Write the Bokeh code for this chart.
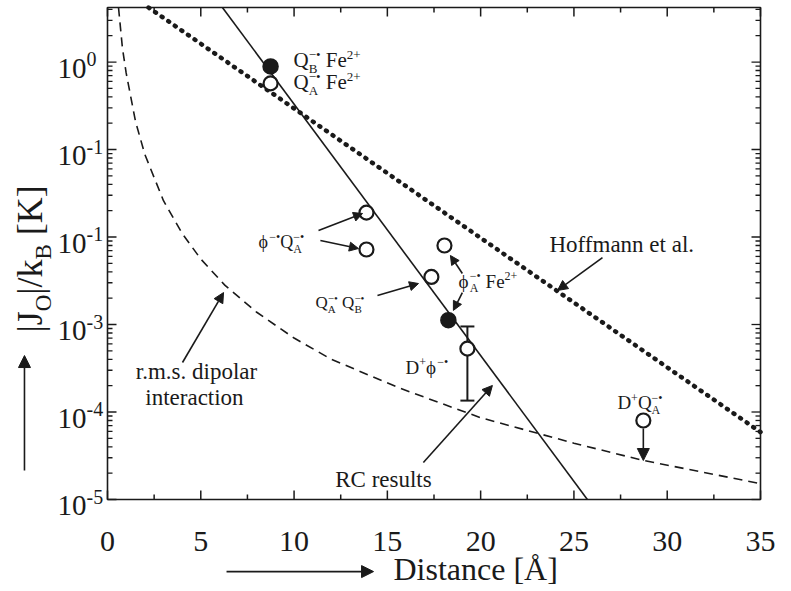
import math
from bokeh.plotting import figure
from bokeh.models import Range1d, Label, Arrow, NormalHead, Whisker, TeeHead, ColumnDataSource
from bokeh.embed import file_html
from bokeh.resources import INLINE

FONT = "Liberation Serif"
INK = "#1a1a1a"

# ---------------- data ----------------
open_x = [8.74, 13.88, 13.88, 17.36, 18.06, 19.29, 28.72]
open_y = [0.57, 0.019, 0.0072, 0.0035, 0.0080, 5.3e-4, 8.0e-5]
filled_x = [8.74, 18.27]
filled_y = [0.89, 1.12e-3]
err_x = [19.29]
err_lo = [1.35e-4]
err_hi = [9.5e-4]
rc_line_x = [6.16, 25.72]
rc_line_y = [4.2, 1.0e-5]
hoff_x = [2.2, 35.0]
hoff_y = [4.2, 5.9e-5]
dip_x = [0.59, 0.8, 1.0, 1.5, 2.0, 3.0, 4.0, 5.0, 6.3, 8.0, 10.0, 12.0, 15.7, 20.0, 25.0, 28.7, 35.0]
dip_y = [4.2, 1.45, 0.75, 0.21, 0.088, 0.026, 0.011, 5.6e-3, 2.8e-3, 1.38e-3, 7.0e-4,
         4.0e-4, 1.86e-4, 8.6e-5, 4.4e-5, 2.8e-5, 1.52e-5]

x_lim = [0.0, 35.0]
y_lim = [1e-5, 4.2]
x_ticks = [0, 5, 10, 15, 20, 25, 30, 35]
x_minor = [2.5, 7.5, 12.5, 17.5, 22.5, 27.5, 32.5]
y_ticks = [1e0, 1e-1, 1e-2, 1e-3, 1e-4, 1e-5]
y_tick_exp = ["0", "-1", "-1", "-3", "-4", "-5"]   # as printed in the reference
y_minor = [k * 10.0 ** n for n in range(-5, 1) for k in range(2, 10) if k * 10.0 ** n < 4.2]

# ---------------- layout: the plot box inside a full-canvas frame ----------------
W, H = 790, 590
BOX_L, BOX_R, BOX_T, BOX_B = 107, 760, 7, 499
sx = (BOX_R - BOX_L) / (x_lim[1] - x_lim[0])
ly0, ly1 = math.log10(y_lim[0]), math.log10(y_lim[1])
sy = (BOX_B - BOX_T) / (ly1 - ly0)
xr = Range1d(x_lim[0] - BOX_L / sx, x_lim[1] + (W - BOX_R) / sx)
yr = Range1d(10 ** (ly0 - (H - BOX_B) / sy), 10 ** (ly1 + BOX_T / sy))

p = figure(width=W, height=H, x_range=xr, y_range=yr, y_axis_type="log",
           x_axis_location=None, y_axis_location=None,
           output_backend="svg", toolbar_location=None,
           min_border_left=0, min_border_right=0, min_border_top=0, min_border_bottom=0)
p.background_fill_color = "white"
p.border_fill_color = "white"
p.outline_line_color = None
p.xgrid.visible = False
p.ygrid.visible = False

# box
p.quad(left=[x_lim[0]], right=[x_lim[1]], bottom=[y_lim[0]], top=[y_lim[1]],
       fill_color=None, line_color=INK, line_width=1.6)

# ticks (inward)
MAJ, MIN = 9, 5
for xs, length in ((x_ticks, MAJ), (x_minor, MIN)):
    p.ray(x=xs, y=[y_lim[0]] * len(xs), length=length, length_units="screen",
          angle=math.pi / 2, line_color=INK, line_width=1.5)
    p.ray(x=xs, y=[y_lim[1]] * len(xs), length=length, length_units="screen",
          angle=-math.pi / 2, line_color=INK, line_width=1.5)
for ys, length in ((y_ticks, MAJ), (y_minor, MIN)):
    p.ray(x=[x_lim[0]] * len(ys), y=ys, length=length, length_units="screen",
          angle=0, line_color=INK, line_width=1.3)
    p.ray(x=[x_lim[1]] * len(ys), y=ys, length=length, length_units="screen",
          angle=math.pi, line_color=INK, line_width=1.3)

# ---------------- curves ----------------
p.line(dip_x, dip_y, line_color=INK, line_width=1.6, line_dash="9 6")
p.line(hoff_x, hoff_y, line_color=INK, line_width=4.5, line_dash="1 7", line_cap="round")
p.line(rc_line_x, rc_line_y, line_color=INK, line_width=1.6)

src = ColumnDataSource(dict(x=err_x, lo=err_lo, hi=err_hi))
p.add_layout(Whisker(source=src, base="x", lower="lo", upper="hi", dimension="height",
                     line_color=INK, line_width=2,
                     upper_head=TeeHead(size=14, line_color=INK, line_width=2),
                     lower_head=TeeHead(size=14, line_color=INK, line_width=2)))

p.scatter(open_x, open_y, size=14, fill_color="white", line_color=INK, line_width=2.2)
p.scatter(filled_x, filled_y, size=15, fill_color=INK, line_color=INK, line_width=1.5)

# ---------------- arrows ----------------
arrows = [
    ((11.31, 0.01189), (13.67, 0.01858), 9),
    ((11.41, 9.12e-3), (13.45, 7.39e-3), 9),
    ((14.47, 2.14e-3), (16.67, 2.94e-3), 9),
    ((19.02, 3.83e-3), (18.38, 6.15e-3), 9),
    ((19.02, 2.32e-3), (18.54, 1.45e-3), 9),
    ((26.53, 5.83e-3), (24.12, 2.45e-3), 10),
    ((4.02, 3.68e-4), (6.22, 2.32e-3), 10),
    ((16.93, 2.65e-5), (20.63, 2.01e-4), 10),
    ((28.72, 6.48e-5), (28.72, 2.79e-5), 12),
    ((-4.45, 2.14e-5), (-4.45, 4.42e-4), 12),
    ((6.38, 1.5e-6), (14.26, 1.5e-6), 12),
]
for (xs, ys), (xe, ye), hs in arrows:
    p.add_layout(Arrow(x_start=xs, y_start=ys, x_end=xe, y_end=ye, line_color=INK,
                       line_width=1.6,
                       end=NormalHead(size=hs, fill_color=INK, line_color=INK, line_width=1)))

# ---------------- text helpers ----------------
WID = {" ": .25, "+": .564, "-": .333, "\u2212": .564, "\u2022": .35, ".": .25, "/": .278,
       "|": .2, "[": .333, "]": .333, "\u03c6": .52, "\u03d5": .6, "\u00c5": .722,
       "A": .722, "B": .667, "C": .667, "D": .722, "F": .556, "H": .722, "J": .389,
       "K": .722, "O": .722, "Q": .722, "R": .667,
       "a": .444, "c": .444, "d": .5, "e": .444, "f": .333, "i": .278, "k": .5, "l": .278,
       "m": .778, "n": .5, "o": .5, "p": .5, "r": .333, "s": .389, "t": .278, "u": .5}
MID = 0.34   # distance (em) from the baseline up to the vertical middle of the text box


def tw(s, fs):
    return sum(WID.get(c, 0.5) for c in s) * fs


def lab(x, y, text, size, dx=0.0, dy=0.0, rotate=False, align="left"):
    """dx/dy place the baseline (pixels, y up); the label is anchored at its middle."""
    if rotate:
        ox, oy, ang = dx - MID * size, dy, math.pi / 2
    else:
        ox, oy, ang = dx, dy + MID * size, 0.0
    p.add_layout(Label(x=x, y=y, x_offset=ox, y_offset=oy, angle=ang, text=text,
                       text_font=FONT, text_font_size=f"{size}px", text_color=INK,
                       text_align=align, text_baseline="middle"))


def rich(x, y, segs, size, dx=0.0, dy=0.0, rotate=False, small=0.64):
    pos = 0.0
    prev_start = 0.0
    for text, kind in segs:
        fs = size if kind == "n" else round(size * small)
        if kind != "supb":
            lead = len(text) - len(text.lstrip(" "))
            pos += lead * 0.25 * fs
            text = text.lstrip(" ")
        start = prev_start if kind == "supb" else pos
        shift = {"n": 0.0, "sub": -0.24 * size}.get(kind, 0.40 * size)
        if rotate:
            lab(x, y, text, fs, dx=dx - shift, dy=dy + start, rotate=True)
        else:
            lab(x, y, text, fs, dx=dx + start, dy=dy + shift)
        w = tw(text, fs)
        if kind == "supb":
            pos = max(pos, start + w)
        else:
            prev_start = start
            pos = start + w


RAD = "\u2212\u2022"
PHI = "\u03d5"

rich(9.97, 0.865, [("Q", "n"), ("B", "sub"), (RAD, "supb"), (" Fe", "n"), ("2+", "sup")], 21)
rich(9.97, 0.485, [("Q", "n"), ("A", "sub"), (RAD, "supb"), (" Fe", "n"), ("2+", "sup")], 21)
rich(8.09, 7.4e-3, [(PHI, "n"), (RAD, "sup"), ("Q", "n"), ("A", "sub"), (RAD, "supb")], 18)
rich(11.15, 1.52e-3, [("Q", "n"), ("A", "sub"), (RAD, "supb"), (" Q", "n"), ("B", "sub"),
                      (RAD, "supb")], 17)
rich(18.81, 2.65e-3, [(PHI, "n"), ("A", "sub"), (RAD, "supb"), (" Fe", "n"), ("2+", "sup")], 19)
rich(15.97, 2.75e-4, [("D", "n"), ("+", "sup"), (PHI, "n"), (RAD, "sup")], 19)
rich(27.33, 1.07e-4, [("D", "n"), ("+", "sup"), ("Q", "n"), ("A", "sub"), (RAD, "supb")], 19)

lab(23.69, 6.65e-3, "Hoffmann et al.", 23)
lab(4.77, 2.35e-4, "r.m.s. dipolar", 23, align="center")
lab(4.66, 1.19e-4, "interaction", 23, align="center")
lab(14.79, 1.37e-5, "RC results", 23, align="center")

# x tick labels
for t in x_ticks:
    lab(t, y_lim[0], str(t), 30, dy=-52, align="center")

# y tick labels (10 with raised exponent)
for v, e in zip(y_ticks, y_tick_exp):
    lab(x_lim[0], v, "10", 29, dx=-50, dy=-16)
    lab(x_lim[0], v, e, 20, dx=-21, dy=-4)

# axis titles
rich(x_lim[0], 5.75e-4, [("|J", "n"), ("O", "sub"), ("|/k", "n"), ("B", "sub"), (" [K]", "n")],
     36, dx=-65, dy=13, rotate=True)
lab(15.33, y_lim[0], "Distance [\u00c5]", 32, dy=-80)

open("out.html", "w").write(file_html(p, INLINE))
